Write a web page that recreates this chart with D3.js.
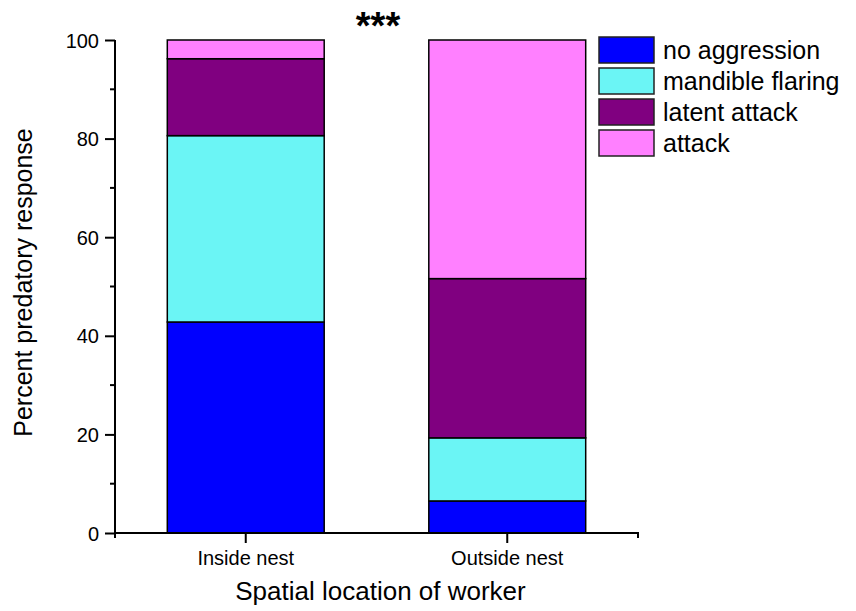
<!DOCTYPE html>
<html><head><meta charset="utf-8">
<script src="https://cdn.jsdelivr.net/npm/d3@7"></script>
<style>body{margin:0;background:#fff}svg{display:block}text{font-family:"Liberation Sans",Arial,sans-serif;fill:#000}</style>
</head><body>
<svg id="c" width="856" height="611"></svg>
<script>
const categories = ["Inside nest", "Outside nest"];
const seriesNames = ["no aggression", "mandible flaring", "latent attack", "attack"];
const noAggression = [42.8, 6.5];
const mandibleFlaring = [37.8, 12.8];
const latentAttack = [15.6, 32.3];
const attack = [3.8, 48.4];
const yTicks = [0, 20, 40, 60, 80, 100];
const yMinorTicks = [10, 30, 50, 70, 90];
const colors = ["#0000FF", "#6BF5F5", "#800080", "#FF80FF"];

const seriesValues = [noAggression, mandibleFlaring, latentAttack, attack];
const table = categories.map((c, i) => {
  const o = {cat: c};
  seriesNames.forEach((s, j) => o[s] = seriesValues[j][i]);
  return o;
});
const stacked = d3.stack().keys(seriesNames)(table);

const svg = d3.select("#c");
const x0 = 115, x1 = 638, yTop = 40, yBot = 533;
const x = d3.scaleBand().domain(categories).range([x0, x1]).paddingInner(0.4).paddingOuter(0.2);
const y = d3.scaleLinear().domain([0, 100]).range([yBot, yTop]);

// bars
svg.append("g").selectAll("g").data(stacked).join("g")
  .attr("fill", (d, i) => colors[i])
  .selectAll("rect").data(d => d).join("rect")
  .attr("x", d => x(d.data.cat))
  .attr("width", x.bandwidth())
  .attr("y", d => y(d[1]))
  .attr("height", d => y(d[0]) - y(d[1]))
  .attr("stroke", "#000").attr("stroke-width", 1.5);

// y axis
const yAxis = svg.append("g").attr("transform", `translate(${x0},0)`)
  .call(d3.axisLeft(y).tickValues(yTicks).tickSize(10).tickPadding(6).tickFormat(d3.format("d")));
yAxis.selectAll("text").style("font-size", "20px").attr("dy", "0.35em");
yAxis.append("g").selectAll("line").data(yMinorTicks).join("line")
  .attr("x1", -5).attr("x2", 0).attr("y1", d => y(d)).attr("y2", d => y(d))
  .attr("stroke", "#000").attr("stroke-width", 2);
yAxis.select(".domain").attr("d", `M0,${yBot}V${yTop}`);
yAxis.selectAll("line,path").attr("stroke", "#000").attr("stroke-width", 2);

// x axis
const xAxis = svg.append("g").attr("transform", `translate(0,${yBot})`)
  .call(d3.axisBottom(x).tickSize(10).tickPadding(8));
xAxis.select(".domain").attr("d", `M${x0},5V0H${x1}V5`);
xAxis.selectAll("line,path").attr("stroke", "#000").attr("stroke-width", 2).attr("fill", "none");
xAxis.selectAll("text").style("font-size", "20px");

// axis titles
svg.append("text").attr("x", (x0 + x1) / 2 + 4).attr("y", 600)
  .attr("text-anchor", "middle").style("font-size", "26px").text("Spatial location of worker");
svg.append("text").attr("transform", `translate(32,${(yTop + yBot) / 2 - 4}) rotate(-90)`)
  .attr("text-anchor", "middle").style("font-size", "25px").text("Percent predatory response");

// significance
svg.append("text").attr("x", 378).attr("y", 39).attr("text-anchor", "middle")
  .style("font-size", "38px").style("font-weight", "bold").text("***");

// legend
const lg = svg.append("g").attr("transform", "translate(599,37)");
const row = lg.selectAll("g").data(seriesNames).join("g")
  .attr("transform", (d, i) => `translate(0,${i * 31})`);
row.append("rect").attr("width", 55).attr("height", 26)
  .attr("fill", (d, i) => colors[i]).attr("stroke", "#222").attr("stroke-width", 1.5);
row.append("text").attr("x", 64).attr("y", 21.5).style("font-size", "25px").text(d => d);
</script>
</body></html>
